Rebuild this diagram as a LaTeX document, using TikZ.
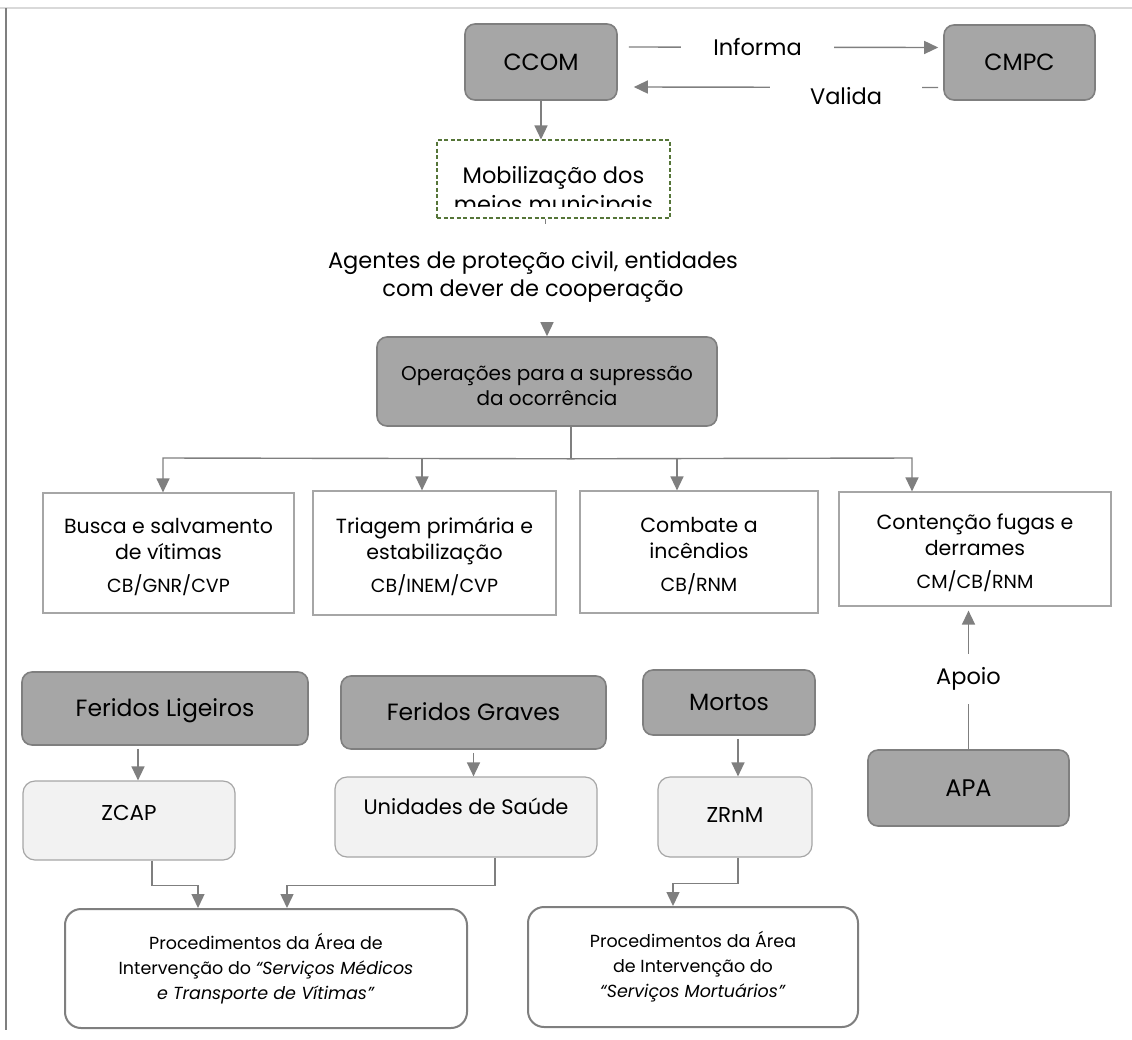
\documentclass[tikz,border=0pt]{standalone}
\usepackage{fontspec}
\setmainfont{Poppins}
\usetikzlibrary{arrows.meta,calc}

\definecolor{boxdark}{HTML}{A6A6A6}
\definecolor{edgedark}{HTML}{7F7F7F}
\definecolor{boxlight}{HTML}{F2F2F2}
\definecolor{edgelight}{HTML}{A6A6A6}
\definecolor{linkgray}{HTML}{7F7F7F}
\definecolor{dashgreen}{HTML}{557538}
\definecolor{framegray}{HTML}{D9D9D9}

\tikzset{
  base/.style={inner sep=0pt, align=center, text=black,
    font=\fontsize{20.5}{26}\selectfont},
  bigtext/.style={font=\fontsize{23.5}{28}\selectfont},
  midtext/.style={font=\fontsize{22.5}{28}\selectfont},
  smalltext/.style={font=\fontsize{17.5}{25}\selectfont},
  sz/.style n args={2}{minimum width=#1pt, minimum height=#2pt},
  oneline/.style={text height=16pt, text depth=0pt},
  darkbox/.style={base, draw=edgedark, fill=boxdark, line width=1.6pt, rounded corners=10pt},
  lightbox/.style={base, draw=edgelight, fill=boxlight, line width=1.2pt, rounded corners=12pt},
  plainbox/.style={base, draw=edgelight, fill=white, line width=1.2pt},
  procbox/.style={base, smalltext, draw=edgedark, fill=white, line width=2pt, rounded corners=16pt},
  dashbox/.style={draw=dashgreen, fill=white, line width=1.1pt, dash pattern=on 4pt off 2.5pt},
  link/.style={draw=linkgray, line width=1.4pt},
  arr/.style={link, -{Triangle[width=13pt,length=14pt]}},
  tag/.style={base, midtext, fill=white},
}
% small helper: empty strut that pushes a text block down
\newcommand{\pushdown}[1]{\rule{0pt}{#1}}

\begin{document}
\begin{tikzpicture}[x=1pt,y=-1pt]
\useasboundingbox (0,0) rectangle (1132,1039);

% page frame
\draw[framegray, line width=2pt] (0,8) -- (1132,8);
\draw[edgedark, line width=1.5pt] (6,8) -- (6,1030);

% command level
\node[darkbox, bigtext, sz={152}{76}, oneline] (ccom) at (541,62) {CCOM};
\node[darkbox, bigtext, sz={151}{75}, oneline] (cmpc) at (1019.5,62.5) {CMPC};

\draw[arr] ($(ccom.east)+(11,-15)$) -- ($(cmpc.west)+(-5,-15)$);
\node[tag, minimum width=153pt, minimum height=26pt] (informa) at (757.5,47) {Informa};
\draw[arr] ($(cmpc.west)+(-5,25)$) -- ($(ccom.east)+(16,25)$);
\node[tag, minimum width=152pt, minimum height=26pt] (valida) at (846,96) {Valida};

% municipal means (text cut off by the frame)
\node[dashbox, sz={233}{78}] (mob) at (553.5,179) {};
\begin{scope}
  \clip (mob.north west) rectangle ($(mob.south east)+(0,-12)$);
  \node[base, font=\fontsize{22.5}{29}\selectfont] (mobtext) at (553.5,192) {Mobilização dos\\meios municipais};
\end{scope}
\draw[arr] (ccom.south) -- (ccom.south |- mob.north);
\draw[link, line width=1pt] ($(mob.south)+(-8.5,0)$) -- ++(0,5);

\node[base, font=\fontsize{22.5}{28}\selectfont] (agentes) at (533,277)
  {Agentes de proteção civil, entidades\\com dever de cooperação};

% suppression operations
\node[darkbox, font=\fontsize{20}{25}\selectfont, sz={340}{89}] (ops) at (547,381.5)
  {\pushdown{24pt}Operações para a supressão\\da ocorrência};
\draw[arr] ($(ops.north)+(0,-14)$) -- (ops.north);

\node[plainbox, sz={251}{120}] (busca) at (168.5,553)
  {\pushdown{23pt}Busca e salvamento\\de vítimas\\[7pt]{\fontsize{19}{26}\selectfont CB/GNR/CVP}};
\node[plainbox, sz={243}{124}] (triagem) at (434.5,553)
  {\pushdown{23pt}Triagem primária e\\estabilização\\[7pt]{\fontsize{19}{26}\selectfont CB/INEM/CVP}};
\node[plainbox, sz={238}{122}] (combate) at (699,552)
  {\pushdown{23pt}Combate a\\incêndios\\[7pt]{\fontsize{19}{26}\selectfont CB/RNM}};
\node[plainbox, sz={272}{114}] (contencao) at (975,549)
  {\pushdown{23pt}Contenção fugas e\\derrames\\[7pt]{\fontsize{19}{26}\selectfont CM/CB/RNM}};

\coordinate (drop) at ($(ops.south)+(24,32)$);
\coordinate (j1) at (163,458);
\coordinate (j2) at (422,458);
\coordinate (j3) at (677,458);
\coordinate (j4) at (912,458);
\draw[link] ($(ops.south)+(24,0)$) -- (drop);
\draw[arr] (drop) -- (j1) -- (j1 |- busca.north);
\draw[arr] (drop) -- (j4) -- (j4 |- contencao.north);
\draw[arr] (j2) -- (j2 |- triagem.north);
\draw[arr] (j3) -- (j3 |- combate.north);

% support
\node[darkbox, font=\fontsize{24}{28}\selectfont, sz={201}{76}, oneline] (apa) at (968.5,788) {APA};
\draw[arr] (apa.north) -- ($(apa.north |- contencao.south)+(0,4)$);
\node[tag, minimum width=76pt, minimum height=50pt] (apoio) at (968.5,679) {Apoio};

% victims
\node[darkbox, bigtext, sz={286}{73}, oneline] (fligeiros) at (165,708.5) {Feridos Ligeiros};
\node[darkbox, bigtext, sz={265}{73}, oneline] (fgraves) at (473.5,712.5) {Feridos Graves};
\node[darkbox, bigtext, sz={172}{65}, oneline] (mortos) at (729,702.5) {Mortos};

\node[lightbox, font=\fontsize{21.5}{26}\selectfont, sz={212}{79}, text height=15pt, text depth=16pt] (zcap) at (129,820.5) {ZCAP};
\node[lightbox, font=\fontsize{21}{26}\selectfont, sz={262}{80}, text height=15pt, text depth=20pt] (unidades) at (466,817) {Unidades de Saúde};
\node[lightbox, font=\fontsize{21.5}{26}\selectfont, sz={154}{80}, text height=15pt, text depth=4pt] (zrnm) at (735,817) {ZRnM};

\coordinate (fz) at ($(fligeiros.south)+(-27,3)$);
\coordinate (gu) at ($(fgraves.south)+(0,3)$);
\coordinate (mz) at ($(mortos.south)+(9,3)$);
\draw[arr] (fz) -- (fz |- zcap.north);
\draw[arr] (gu) -- (gu |- unidades.north);
\draw[arr] (mz) -- (mz |- zrnm.north);

% procedures
\node[procbox, sz={402}{119}] (procmed) at (266,968.5)
  {Procedimentos da Área de\\Intervenção do \textit{“Serviços Médicos}\\\textit{e Transporte de Vítimas”}};
\node[procbox, sz={330}{120}] (procmort) at (693,967)
  {Procedimentos da Área\\de Intervenção do\\\textit{“Serviços Mortuários”}};

\draw[arr] ($(zcap.south)+(23,0)$) -- ++(0,25) -| ($(procmed.north)+(-68,0)$);
\draw[arr] ($(unidades.south)+(29,0)$) -- ++(0,28) -| ($(procmed.north)+(21,0)$);
\draw[arr] ($(zrnm.south)+(3,0)$) -- ++(0,26) -| ($(procmort.north)+(-20,0)$);

\end{tikzpicture}
\end{document}
